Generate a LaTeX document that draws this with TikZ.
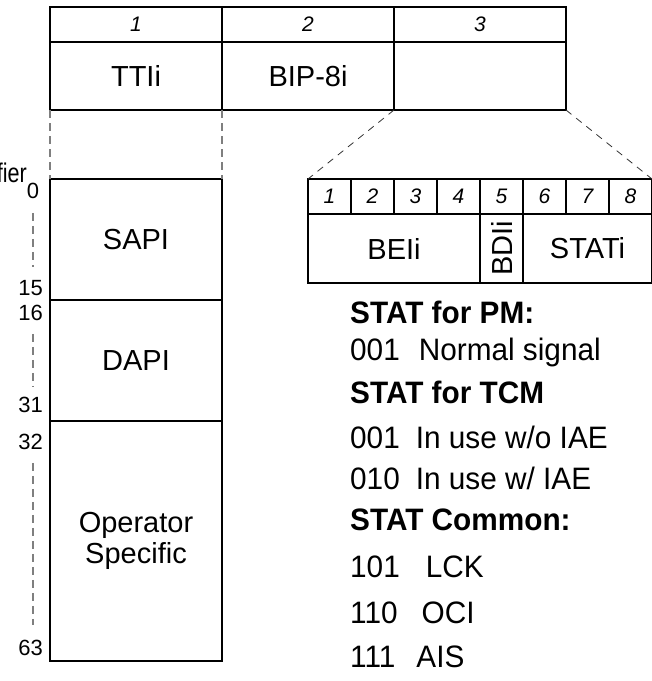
\documentclass[tikz,border=0pt]{standalone}
\usepackage{fontspec}
\setmainfont{Liberation Sans}
\newfontfamily\narrowsans[FakeStretch=0.96]{Liberation Sans}
\newfontfamily\tightsans[FakeStretch=0.8]{Liberation Sans}
\usetikzlibrary{positioning}
\definecolor{guidegray}{HTML}{7F7F7F}
\definecolor{zoomgray}{HTML}{333333}

\begin{document}
\begin{tikzpicture}[x=1pt,y=-1pt,
  cell/.style={draw,line width=1.2pt,inner sep=0pt,outer sep=0pt,
    font=\fontsize{29}{31}\selectfont},
  hdr/.style={cell,minimum height=35pt,font=\fontsize{21}{23}\selectfont\itshape},
  numlab/.style={inner sep=2pt,font=\fontsize{22}{24}\selectfont},
  statline/.style={anchor=west,inner sep=0pt,font=\narrowsans\fontsize{31}{33}\selectfont},
  stathead/.style={statline,font=\narrowsans\bfseries\fontsize{31}{33}\selectfont},
  guide/.style={draw=guidegray,line width=1.2pt,dash pattern=on 8pt off 5pt},
  zoomline/.style={draw=zoomgray,line width=0.8pt,dash pattern=on 7pt off 6pt}]
\useasboundingbox (0,0) rectangle (652,681);
% overhead bytes
\node[hdr,minimum width=172pt,anchor=north west] (h1) at (50,7) {1};
\node[hdr,minimum width=172pt,right=0pt of h1] (h2) {2};
\node[hdr,minimum width=172pt,right=0pt of h2] (h3) {3};
\node[cell,minimum width=172pt,minimum height=68pt,below=0pt of h1] (ttii) {TTIi};
\node[cell,minimum width=172pt,minimum height=68pt,below=0pt of h2] (bipi) {BIP-8i};
\node[cell,minimum width=172pt,minimum height=68pt,below=0pt of h3] (byte3) {};
% trail trace identifier
\node[cell,minimum width=172pt,minimum height=121pt,anchor=north west] (sapi) at (50,179) {SAPI};
\node[cell,minimum width=172pt,minimum height=121pt,below=0pt of sapi] (dapi) {DAPI};
\node[cell,minimum width=172pt,minimum height=240pt,below=0pt of dapi,align=center] (opspec) {Operator\\Specific};
\draw[guide] (ttii.south west) -- (sapi.north west);
\draw[guide] (ttii.south east) -- (sapi.north east);
\node[anchor=base east,inner sep=0pt,font=\tightsans\fontsize{27}{29}\selectfont] (ident) at (27,182) {fier};
\node[numlab] (n0) at (33,191) {0};
\node[numlab,anchor=east] (n15) at (45,288) {15};
\node[numlab,anchor=east] (n16) at (45,313) {16};
\node[numlab,anchor=east] (n31) at (45,405) {31};
\node[numlab,anchor=east] (n32) at (45,442) {32};
\node[numlab,anchor=east] (n63) at (45,648) {63};
\draw[guide,shorten <=12pt,shorten >=11pt] (n0.south) -- (n0.south |- n15.north);
\draw[guide,shorten <=11pt,shorten >=9pt] (n16.south -| n0) -- (n0 |- n31.north);
\draw[guide,shorten <=11pt,shorten >=13pt] (n32.south -| n0) -- (n0 |- n63.north);
% byte 3 bits
\node[hdr,minimum width=43pt,anchor=north west] (s1) at (308,179) {1};
\foreach \i [count=\j] in {2,...,8}
  \node[hdr,minimum width=43pt,right=0pt of s\j] (s\i) {\i};
\node[cell,minimum width=172pt,minimum height=69pt,anchor=north west] (beii) at (s1.south west) {BEIi};
\node[cell,minimum width=43pt,minimum height=69pt,below=0pt of s5] (bdii) {\rotatebox{90}{BDIi}};
\node[cell,minimum width=129pt,minimum height=69pt,anchor=north west] (stati) at (s6.south west) {STATi};
\draw[zoomline] (byte3.south west) -- (s1.north west);
\draw[zoomline] (byte3.south east) -- (s8.north east);
% STAT values
\node[stathead] (pmhead) at (350,312) {STAT for PM:};
\node[statline] (pmnormal) at (350,352) {001\hspace{19pt}Normal signal};
\node[stathead] (tcmhead) at (350,392) {STAT for TCM};
\node[statline] (tcmnoiae) at (350,437) {001\hspace{16pt}In use w/o IAE};
\node[statline] (tcmiae) at (350,478) {010\hspace{16pt}In use w/ IAE};
\node[stathead] (comhead) at (350,520) {STAT Common:};
\node[statline] (comlck) at (350,567) {101\hspace{26pt}LCK};
\node[statline] (comoci) at (350,613) {110\hspace{24pt}OCI};
\node[statline] (comais) at (350,657) {111\hspace{21pt}AIS};
\end{tikzpicture}
\end{document}
